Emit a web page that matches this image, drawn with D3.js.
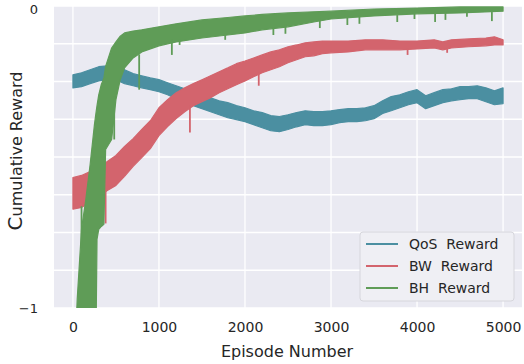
<!DOCTYPE html>
<html><head><meta charset="utf-8">
<script src="https://cdn.jsdelivr.net/npm/d3@7"></script>
<style>body{margin:0;background:#fff}svg{display:block}</style>
</head><body><svg id="c" width="524" height="364"></svg>
<script>
// ---- data (episode, upper value, lower value) ----
const qosEp = [0,100,200,300,400,500,600,700,800,900,1000,1100,1200,1300,1400,1500,1600,1700,1800,1900,2000,2100,2200,2300,2400,2500,2600,2700,2800,2900,3000,3100,3200,3300,3400,3500,3600,3700,3800,3900,4000,4100,4200,4300,4400,4500,4600,4700,4800,4900,5000];
const qosHi = [-0.228,-0.221,-0.211,-0.201,-0.198,-0.198,-0.211,-0.224,-0.231,-0.238,-0.244,-0.254,-0.264,-0.274,-0.284,-0.294,-0.304,-0.314,-0.320,-0.330,-0.337,-0.347,-0.353,-0.363,-0.366,-0.360,-0.353,-0.347,-0.350,-0.350,-0.347,-0.343,-0.340,-0.340,-0.337,-0.330,-0.314,-0.300,-0.294,-0.284,-0.277,-0.297,-0.287,-0.277,-0.274,-0.267,-0.267,-0.264,-0.271,-0.281,-0.271];
const qosLo = [-0.271,-0.267,-0.257,-0.248,-0.244,-0.244,-0.257,-0.264,-0.271,-0.277,-0.284,-0.294,-0.307,-0.317,-0.330,-0.340,-0.350,-0.360,-0.370,-0.376,-0.383,-0.393,-0.403,-0.413,-0.416,-0.409,-0.400,-0.393,-0.396,-0.396,-0.393,-0.386,-0.383,-0.383,-0.380,-0.373,-0.356,-0.347,-0.337,-0.327,-0.320,-0.340,-0.330,-0.320,-0.314,-0.310,-0.307,-0.307,-0.317,-0.327,-0.323];

const bwEp = [0,100,200,300,400,500,600,700,800,900,1000,1100,1200,1300,1400,1500,1600,1700,1800,1900,2000,2100,2200,2300,2400,2500,2600,2700,2800,2900,3000,3200,3400,3600,3800,4000,4200,4300,4400,4600,4800,4900,5000];
const bwHi = [-0.568,-0.561,-0.548,-0.531,-0.515,-0.495,-0.465,-0.439,-0.409,-0.380,-0.337,-0.310,-0.287,-0.271,-0.257,-0.244,-0.231,-0.218,-0.205,-0.191,-0.182,-0.172,-0.162,-0.152,-0.145,-0.135,-0.129,-0.122,-0.119,-0.116,-0.116,-0.116,-0.112,-0.112,-0.116,-0.116,-0.112,-0.119,-0.112,-0.109,-0.106,-0.102,-0.112];
const bwLo = [-0.673,-0.667,-0.650,-0.630,-0.611,-0.594,-0.564,-0.531,-0.502,-0.472,-0.429,-0.399,-0.373,-0.350,-0.330,-0.317,-0.304,-0.287,-0.274,-0.261,-0.248,-0.234,-0.221,-0.211,-0.201,-0.188,-0.178,-0.168,-0.165,-0.158,-0.155,-0.152,-0.145,-0.145,-0.145,-0.142,-0.139,-0.145,-0.139,-0.135,-0.132,-0.129,-0.129];

const bhEp = [0,50,100,150,200,250,270,280,300,330,360,380,450,500,550,600,700,800,1000,1200,1500,1800,2000,2200,2500,2800,3000,3500,4000,4500,5000];
const bhHi = [-1.30,-0.970,-0.739,-0.640,-0.525,-0.393,-0.350,-0.330,-0.294,-0.260,-0.238,-0.200,-0.139,-0.119,-0.100,-0.089,-0.083,-0.079,-0.069,-0.059,-0.046,-0.038,-0.033,-0.028,-0.023,-0.019,-0.017,-0.010,-0.007,-0.003,-0.003];
const bhLo = [-1.50,-1.20,-1.20,-1.15,-1.10,-1.08,-1.05,-0.772,-0.740,-0.730,-0.723,-0.475,-0.442,-0.310,-0.244,-0.205,-0.172,-0.152,-0.132,-0.119,-0.106,-0.096,-0.089,-0.079,-0.069,-0.053,-0.043,-0.033,-0.026,-0.023,-0.017];

// spikes: [episode, from value, to value]
const bwSpikes = [[380,-0.60,-0.720],[1360,-0.33,-0.419],[2160,-0.22,-0.264],[3890,-0.14,-0.162],[4350,-0.14,-0.155]];
const bhSpikes = [[100,-0.80,-0.663],[480,-0.30,-0.442],[770,-0.16,-0.277],[1150,-0.11,-0.162],[1240,-0.11,-0.129],[1770,-0.09,-0.112],[2330,-0.07,-0.096],[2470,-0.06,-0.092],[2870,-0.04,-0.073],[3190,-0.03,-0.063],[3330,-0.03,-0.059],[3770,-0.03,-0.053],[3970,-0.02,-0.043],[4210,-0.02,-0.053],[4330,-0.02,-0.046],[4580,-0.02,-0.036],[4870,-0.02,-0.050]];

const seriesNames = ["QoS  Reward","BW  Reward","BH  Reward"];
const colors = ["#4b8fa1","#d3646d","#5f9c57"];
const xTicks = [0,1000,2000,3000,4000,5000];
const yGrid = [0,-0.125,-0.25,-0.375,-0.5,-0.625,-0.75,-0.875,-1];
const yTickValues = [0,-1];
const yTickLabels = ["0","\u22121"];

// ---- drawing ----
const svg = d3.select("#c");
const L = 54, R = 522, T = 6, B = 308;
const x = d3.scaleLinear().domain([-220, 5220]).range([L, R]);
const y = d3.scaleLinear().domain([-1, 0]).range([B, T]);
const font = "DejaVu Sans, sans-serif";

svg.append("rect").attr("x", L).attr("y", T).attr("width", R - L).attr("height", B - T).attr("fill", "#eaeaf2");
svg.append("clipPath").attr("id", "clip").append("rect").attr("x", L).attr("y", T).attr("width", R - L).attr("height", B - T);

const grid = svg.append("g").attr("stroke", "#fff").attr("stroke-width", 1.3);
grid.selectAll(".gy").data(yGrid).join("line").attr("x1", L).attr("x2", R).attr("y1", d => y(d)).attr("y2", d => y(d));
grid.selectAll(".gx").data(xTicks).join("line").attr("y1", T).attr("y2", B).attr("x1", d => x(d)).attr("x2", d => x(d));

const plot = svg.append("g").attr("clip-path", "url(#clip)");
const series = [
  {ep: qosEp, hi: qosHi, lo: qosLo, spikes: []},
  {ep: bwEp, hi: bwHi, lo: bwLo, spikes: bwSpikes},
  {ep: bhEp, hi: bhHi, lo: bhLo, spikes: bhSpikes}
];
const area = d3.area().x(d => x(d[0])).y0(d => y(d[2])).y1(d => y(d[1]));
series.forEach((s, i) => {
  const pts = s.ep.map((e, k) => [e, s.hi[k], s.lo[k]]);
  plot.append("path").datum(pts).attr("d", area).attr("fill", colors[i])
    .attr("stroke", colors[i]).attr("stroke-width", 1.2).attr("stroke-linejoin", "round");
  plot.selectAll(null).data(s.spikes).join("line")
    .attr("x1", d => x(d[0])).attr("x2", d => x(d[0]))
    .attr("y1", d => y(d[1])).attr("y2", d => y(d[2]))
    .attr("stroke", colors[i]).attr("stroke-width", 1.8);
});

// axes labels
const xAxis = d3.axisBottom(x).tickValues(xTicks).tickFormat(d3.format("d")).tickSize(0).tickPadding(14);
const gx = svg.append("g").attr("transform", `translate(0,${B})`).call(xAxis);
gx.select(".domain").remove();
gx.selectAll("text").attr("font-family", font).attr("font-size", 14).attr("fill", "#262626");

const yAxis = d3.axisLeft(y).tickValues(yTickValues).tickFormat((d, i) => yTickLabels[i]).tickSize(0).tickPadding(16);
const gy = svg.append("g").attr("transform", `translate(${L},0)`).call(yAxis);
gy.select(".domain").remove();
gy.selectAll("text").attr("font-family", font).attr("font-size", 13).attr("fill", "#262626");
gy.selectAll(".tick").filter(d => d === 0).select("text").attr("dy", "0.6em");

svg.append("text").attr("x", 287).attr("y", 357).attr("text-anchor", "middle")
  .attr("font-family", font).attr("font-size", 16).attr("fill", "#262626").text("Episode Number");
const yt = svg.append("text").attr("transform", "translate(22,151) rotate(-90)").attr("text-anchor", "middle")
  .attr("font-family", font).attr("font-size", 16).attr("fill", "#262626");
yt.append("tspan").attr("font-size", 20).text("C");
yt.append("tspan").text("umulative Reward");

// legend
const lg = svg.append("g");
lg.append("rect").attr("x", 360).attr("y", 232).attr("width", 154).attr("height", 69).attr("rx", 3)
  .attr("fill", "#efeff4").attr("stroke", "#d6d6dc").attr("stroke-width", 1);
seriesNames.forEach((n, i) => {
  const yy = 244 + i * 22;
  lg.append("line").attr("x1", 366).attr("x2", 398).attr("y1", yy).attr("y2", yy).attr("stroke", colors[i]).attr("stroke-width", 2);
  lg.append("text").attr("x", 409).attr("y", yy + 5).attr("font-family", font).attr("font-size", 14)
    .attr("fill", "#262626").attr("xml:space", "preserve").style("white-space", "pre").text(n);
});
</script></body></html>
